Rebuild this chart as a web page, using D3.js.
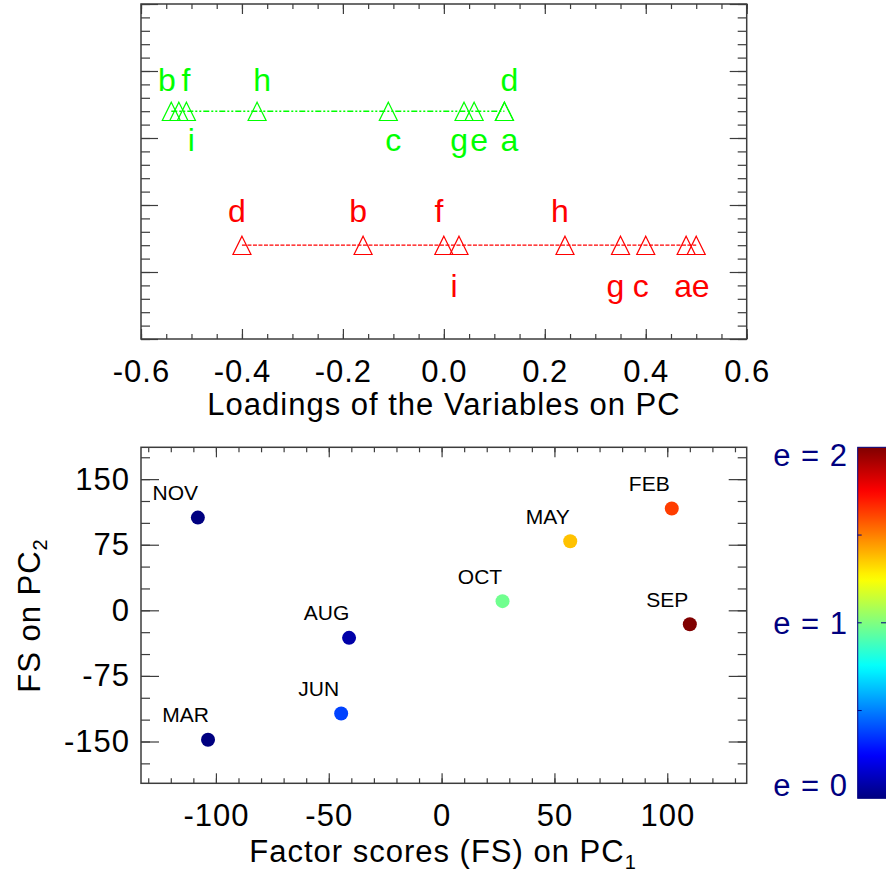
<!DOCTYPE html>
<html>
<head>
<meta charset="utf-8">
<script src="https://cdn.jsdelivr.net/npm/d3@7"></script>
<style>
  html, body { margin: 0; padding: 0; background: #fff; overflow: hidden; }
  svg { display: block; }
</style>
</head>
<body>
<svg id="chart" width="886" height="875"></svg>
<script>
// ---- Loadings of the variables on the two components ----
const variables = ['a', 'b', 'c', 'd', 'e', 'f', 'g', 'h', 'i'];
const loadingsPC1 = [0.12, -0.54, -0.11, 0.12, 0.06, -0.525, 0.04, -0.37, -0.51];   // green row
const loadingsPC2 = [0.48, -0.16, 0.40, -0.40, 0.50, 0.00, 0.35, 0.24, 0.03];       // red row
const labelsAbove = ['b', 'd', 'f', 'h'];
const loadingTicks = [-0.6, -0.4, -0.2, 0.0, 0.2, 0.4, 0.6];

// ---- Factor scores per month ----
const months = ['NOV', 'MAR', 'AUG', 'JUN', 'OCT', 'MAY', 'FEB', 'SEP'];
const scoresPC1 = [-108, -103.5, -41, -44.5, 27, 57, 102, 110];
const scoresPC2 = [106, -148, -31.5, -118, 10.5, 79, 116.5, -16];
const eValues = [0.0, 0.0, 0.08, 0.38, 0.97, 1.37, 1.63, 2.0];
const scoreTicksX = [-100, -50, 0, 50, 100];
const scoreTicksY = [-150, -75, 0, 75, 150];
const colorbarLabels = ['e = 0', 'e = 1', 'e = 2'];
const colorbarValues = [0, 1, 2];

const FONT = "'Liberation Sans', Arial, Helvetica, sans-serif";
const FRAME = '#3c3c3c';
const NAVY = '#00007f';

const svg = d3.select('#chart');
const fmt = d3.formatLocale({ decimal: '.', thousands: ',', grouping: [3], currency: ['', ''], minus: '-' });

// jet colour map, t in [0,1]
function jet(t) {
  const c = v => Math.max(0, Math.min(1, v));
  const r = c(1.5 - Math.abs(4 * t - 3));
  const g = c(1.5 - Math.abs(4 * t - 2));
  const b = c(1.5 - Math.abs(4 * t - 1));
  return d3.rgb(r * 255, g * 255, b * 255).formatHex();
}

function styleAxis(sel) {
  sel.select('.domain').remove();
  sel.selectAll('.tick line').attr('stroke', FRAME).attr('stroke-width', 1.2);
  sel.selectAll('.tick text')
    .attr('fill', '#000')
    .style('font-family', FONT)
    .style('font-size', '31px')
    .style('letter-spacing', '1px');
}

// draws a boxed frame with inward major/minor ticks on all four sides
function framedAxes(x, y, opt) {
  const [x0, x1] = x.range();
  const [y0, y1] = y.range(); // y0 = bottom, y1 = top
  const g = svg.append('g');

  const bottom = g.append('g').attr('transform', `translate(0,${y0})`)
    .call(d3.axisBottom(x).tickValues(opt.xMajor).tickSize(-opt.xMajorLen).tickPadding(opt.xPad)
      .tickFormat(opt.xFormat));
  styleAxis(bottom);
  styleAxis(g.append('g').attr('transform', `translate(0,${y0})`)
    .call(d3.axisBottom(x).tickValues(opt.xMinor).tickSize(-opt.xMinorLen).tickFormat('')));
  styleAxis(g.append('g').attr('transform', `translate(0,${y1})`)
    .call(d3.axisTop(x).tickValues(opt.xMajor).tickSize(-opt.xMajorLen).tickFormat('')));
  styleAxis(g.append('g').attr('transform', `translate(0,${y1})`)
    .call(d3.axisTop(x).tickValues(opt.xMinor).tickSize(-opt.xMinorLen).tickFormat('')));

  const left = g.append('g').attr('transform', `translate(${x0},0)`)
    .call(d3.axisLeft(y).tickValues(opt.yMajor).tickSize(-opt.yMajorLen).tickPadding(opt.yPad)
      .tickFormat(opt.yFormat));
  styleAxis(left);
  styleAxis(g.append('g').attr('transform', `translate(${x0},0)`)
    .call(d3.axisLeft(y).tickValues(opt.yMinor).tickSize(-opt.yMinorLen).tickFormat('')));
  styleAxis(g.append('g').attr('transform', `translate(${x1},0)`)
    .call(d3.axisRight(y).tickValues(opt.yMajor).tickSize(-opt.yMajorLen).tickFormat('')));
  styleAxis(g.append('g').attr('transform', `translate(${x1},0)`)
    .call(d3.axisRight(y).tickValues(opt.yMinor).tickSize(-opt.yMinorLen).tickFormat('')));

  g.append('rect')
    .attr('x', x0).attr('y', y1)
    .attr('width', x1 - x0).attr('height', y0 - y1)
    .attr('fill', 'none').attr('stroke', FRAME).attr('stroke-width', 1.5);
  return g;
}

const steps = (a, b, s) => d3.range(Math.round(a / s), Math.round(b / s) + 1).map(k => +(k * s).toFixed(6));

// =================== Top panel: loadings ===================
const xL = d3.scaleLinear().domain([-0.6, 0.6]).range([141, 746.7]);
const yL = d3.scaleLinear().domain([0, 5]).range([339, 4]);

framedAxes(xL, yL, {
  xMajor: loadingTicks, xMinor: steps(-0.6, 0.6, 0.05), xMajorLen: 10, xMinorLen: 5,
  xPad: 21, xFormat: fmt.format('.1f'),
  yMajor: steps(0, 5, 1), yMinor: steps(0, 5, 0.2), yMajorLen: 17, yMinorLen: 9,
  yPad: 10, yFormat: ''
});

svg.append('text')
  .attr('x', 444).attr('y', 415).attr('text-anchor', 'middle')
  .style('font-family', FONT).style('font-size', '31px').style('letter-spacing', '1px')
  .text('Loadings of the Variables on PC');

const loadingRows = [
  { values: loadingsPC1, color: '#00ff00', level: 3.4, dash: '6,2,2,2,2,2', width: 1.6,
    labelDx: 5, above: -20, below: 40, nudge: { b: -9.5, g: -10, f: 2 } },
  { values: loadingsPC2, color: '#ff0000', level: 1.4, dash: '4,1.5', width: 1.2,
    labelDx: -5, above: -23, below: 52, nudge: { e: 9.5, a: 2 } }
];

const tri = (cx, cy) => `M${cx},${cy - 9}L${cx + 9},${cy + 9.3}L${cx - 9},${cy + 9.3}Z`;

loadingRows.forEach(row => {
  const g = svg.append('g');
  const yy = yL(row.level);
  const ext = d3.extent(row.values);
  g.append('line')
    .attr('x1', xL(ext[0])).attr('x2', xL(ext[1]))
    .attr('y1', yy).attr('y2', yy)
    .attr('stroke', row.color).attr('stroke-width', row.width)
    .attr('stroke-dasharray', row.dash);
  g.selectAll('path.tri')
    .data(row.values)
    .join('path')
    .attr('class', 'tri')
    .attr('d', v => tri(xL(v), yy))
    .attr('fill', 'none').attr('stroke', row.color).attr('stroke-width', 1.2);
  g.selectAll('text')
    .data(variables)
    .join('text')
    .attr('x', (v, i) => xL(row.values[i]) + row.labelDx + (row.nudge[v] || 0))
    .attr('y', v => yy + (labelsAbove.includes(v) ? row.above : row.below))
    .attr('text-anchor', 'middle')
    .attr('fill', row.color)
    .style('font-family', FONT).style('font-size', '32px')
    .text(v => v);
});

// =================== Bottom panel: factor scores ===================
const xS = d3.scaleLinear().domain([-133.2, 135.2]).range([141, 746.7]);
const yS = d3.scaleLinear().domain([-197.8, 186.4]).range([783.3, 447.3]);

framedAxes(xS, yS, {
  xMajor: scoreTicksX, xMinor: steps(-130, 130, 10), xMajorLen: 10, xMinorLen: 5,
  xPad: 21, xFormat: fmt.format('d'),
  yMajor: scoreTicksY, yMinor: steps(-175, 175, 25), yMajorLen: 18, yMinorLen: 9,
  yPad: 11, yFormat: fmt.format('d')
});

const xTitle = svg.append('text')
  .attr('x', 443).attr('y', 861.7).attr('text-anchor', 'middle')
  .style('font-family', FONT).style('font-size', '31px').style('letter-spacing', '1px');
xTitle.append('tspan').text('Factor scores (FS) on PC');
xTitle.append('tspan').attr('dy', 7).style('font-size', '20px').text('1');

const yTitle = svg.append('text')
  .attr('transform', 'translate(40,615.5) rotate(-90)')
  .attr('text-anchor', 'middle')
  .style('font-family', FONT).style('font-size', '31px').style('letter-spacing', '1px');
yTitle.append('tspan').text('FS on PC');
yTitle.append('tspan').attr('dy', 7).style('font-size', '20px').text('2');

const pts = svg.append('g');
pts.selectAll('circle')
  .data(months)
  .join('circle')
  .attr('cx', (m, i) => xS(scoresPC1[i]))
  .attr('cy', (m, i) => yS(scoresPC2[i]))
  .attr('r', 7)
  .attr('fill', (m, i) => jet(eValues[i] / 2));
pts.selectAll('text')
  .data(months)
  .join('text')
  .attr('x', (m, i) => xS(scoresPC1[i]) - 22.5)
  .attr('y', (m, i) => yS(scoresPC2[i]) - 17.5)
  .attr('text-anchor', 'middle')
  .style('font-family', FONT).style('font-size', '21px')
  .text(m => m);

// =================== Colour bar ===================
const yC = d3.scaleLinear().domain([0, 2]).range([798.3, 447.3]);
const cbX = 857.7, cbW = 40;
const grad = svg.append('defs').append('linearGradient')
  .attr('id', 'jetGrad').attr('x1', 0).attr('y1', 1).attr('x2', 0).attr('y2', 0);
grad.selectAll('stop')
  .data(d3.range(0, 1.0001, 0.02))
  .join('stop')
  .attr('offset', t => t)
  .attr('stop-color', t => jet(t));

svg.append('rect')
  .attr('x', cbX).attr('y', yC(2))
  .attr('width', cbW).attr('height', yC(0) - yC(2))
  .attr('fill', 'url(#jetGrad)')
  .attr('stroke', NAVY).attr('stroke-width', 1);

svg.append('g').selectAll('line')
  .data([0.5, 1, 1.5])
  .join('line')
  .attr('x1', cbX).attr('x2', cbX + 4)
  .attr('y1', e => yC(e)).attr('y2', e => yC(e))
  .attr('stroke', NAVY).attr('stroke-width', 1);
svg.append('g').selectAll('line')
  .data([1])
  .join('line')
  .attr('x1', 881).attr('x2', 886)
  .attr('y1', e => yC(e)).attr('y2', e => yC(e))
  .attr('stroke', NAVY).attr('stroke-width', 1);

const cbShift = { 0: -2, 1: 11, 2: 19 };
svg.append('g').selectAll('text')
  .data(colorbarValues)
  .join('text')
  .attr('x', 848)
  .attr('y', e => yC(e) + cbShift[e])
  .attr('text-anchor', 'end')
  .attr('fill', NAVY)
  .style('font-family', FONT).style('font-size', '31px').style('letter-spacing', '1px')
  .text((e, i) => colorbarLabels[i]);
</script>
</body>
</html>
